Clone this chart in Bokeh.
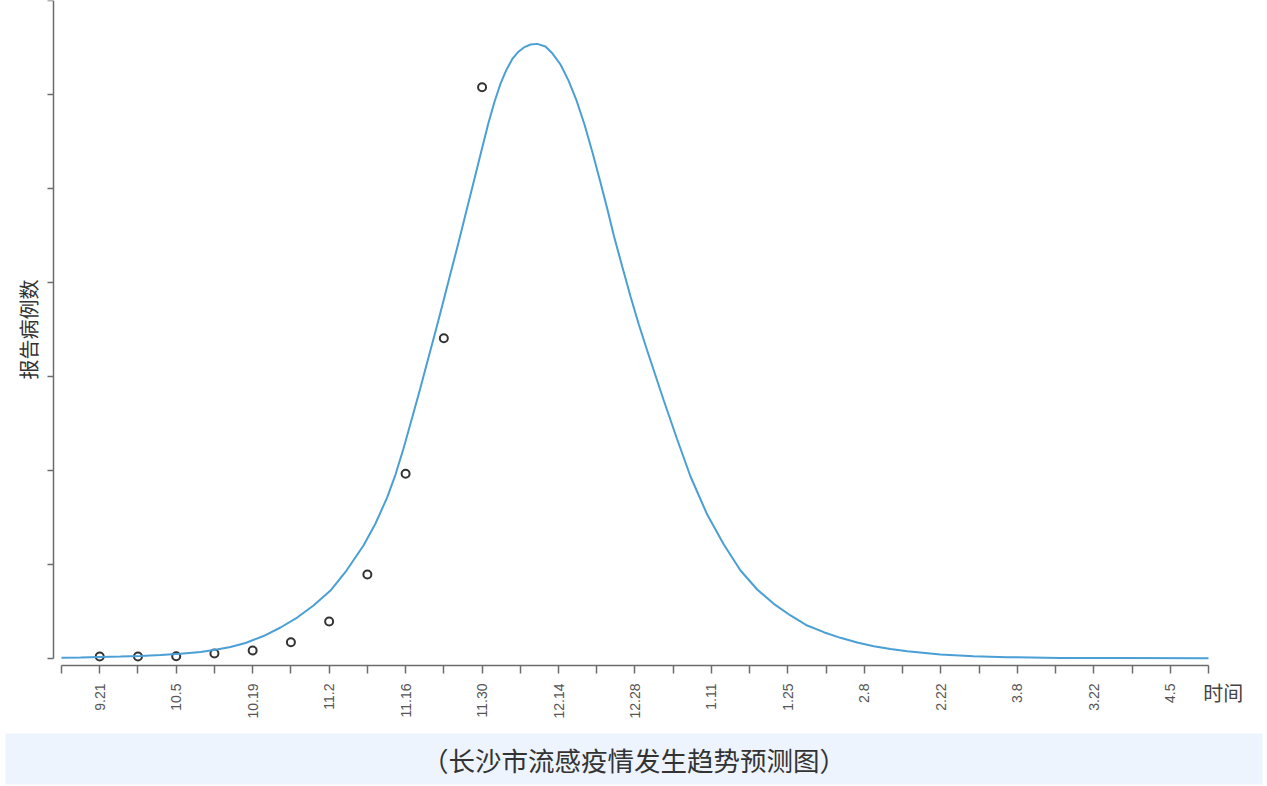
import numpy as np
from bokeh.plotting import figure
from bokeh.models import Range1d, FixedTicker, Label
from bokeh.layouts import column
from bokeh.embed import file_html
from bokeh.resources import INLINE

# ---- data (x = days since 9.14, weekly ticks) ----
tick_days = list(range(0, 211, 7))
tick_labels = ["", "9.21", "", "10.5", "", "10.19", "", "11.2", "", "11.16", "",
               "11.30", "", "12.14", "", "12.28", "", "1.11", "", "1.25", "",
               "2.8", "", "2.22", "", "3.8", "", "3.22", "", "4.5", ""]
y_ticks = [0, 1000, 2000, 3000, 4000, 5000, 6000, 7000]

# observed weekly reported cases
obs_days = [7, 14, 21, 28, 35, 42, 49, 56, 63, 70, 77]
obs_cases = [18, 18, 21, 50, 82, 170, 391, 891, 1964, 3408, 6081]

# predicted trend curve
fit_days = [0.00, 3.48, 7.14, 10.80, 14.46, 18.13, 21.79, 25.45, 28.20, 30.94,
            33.69, 36.98, 40.10, 43.15, 46.14, 49.25, 52.18, 55.29, 57.49,
            59.63, 61.15, 62.62, 64.26, 65.73, 67.19, 68.47, 69.76, 71.22,
            72.69, 74.15, 75.62, 77.08, 78.18, 79.28, 80.38, 81.47, 82.57,
            83.67, 84.77, 85.87, 87.09, 88.61, 89.90, 91.36, 92.83, 94.29,
            95.75, 97.22, 98.68, 99.91, 101.12, 102.66, 104.18, 105.70,
            107.23, 108.75, 110.27, 112.73, 115.16, 118.22, 121.26, 124.32,
            127.37, 130.41, 133.47, 136.53, 139.57, 142.62, 145.68, 148.72,
            151.78, 154.84, 160.93, 166.98, 173.14, 182.90, 193.89, 210.00]
fit_cases = [5, 7, 12, 17, 24, 34, 48, 66, 89, 119,
             162, 236, 327, 433, 561, 721, 934, 1200, 1435,
             1712, 1956, 2233, 2574, 2883, 3202, 3479, 3767, 4097,
             4427, 4768, 5109, 5450, 5703, 5927, 6119, 6268, 6385,
             6460, 6509, 6536, 6543, 6515, 6440, 6323, 6152, 5940,
             5684, 5386, 5066, 4789, 4502, 4172, 3852, 3554,
             3277, 3011, 2745, 2329, 1935, 1530, 1211, 934,
             732, 579, 455, 348, 277, 217, 167, 128,
             98, 75, 39, 21, 11, 3, 1, 0]

y_title = "报告病例数"
x_title = "时间"
caption = "（长沙市流感疫情发生趋势预测图）"

CJK = "Noto Sans CJK SC"

p = figure(width=1267, height=733,
           x_range=Range1d(-10.253, 219.887), y_range=Range1d(-802, 7005),
           output_backend="svg", toolbar_location=None,
           min_border_left=5, min_border_right=5,
           min_border_top=0, min_border_bottom=0)
p.xgrid.visible = False
p.ygrid.visible = False
p.outline_line_color = None
p.background_fill_color = "white"
p.border_fill_color = "white"

axis_col = "#6c6c6c"
xa = p.xaxis[0]
xa.fixed_location = -77.7
xa.ticker = FixedTicker(ticks=tick_days, minor_ticks=[])
xa.bounds = (tick_days[0], tick_days[-1])
xa.major_label_overrides = {d: t for d, t in zip(tick_days, tick_labels)}
xa.major_tick_out = 8
xa.major_tick_in = 0
xa.minor_tick_out = 0
xa.minor_tick_in = 0
xa.axis_line_color = axis_col
xa.axis_line_width = 1.5
xa.major_tick_line_color = axis_col
xa.major_tick_line_width = 1.5
xa.major_label_orientation = np.pi / 2
xa.major_label_text_font = "Liberation Sans"
xa.major_label_text_font_size = "14px"
xa.major_label_text_color = "#555555"
xa.major_label_standoff = 10

ya = p.yaxis[0]
ya.fixed_location = -1.465
ya.ticker = FixedTicker(ticks=y_ticks, minor_ticks=[])
ya.bounds = (y_ticks[0], y_ticks[-1])
ya.major_label_overrides = {v: "" for v in y_ticks}
ya.major_label_standoff = 0
ya.major_tick_out = 6
ya.major_tick_in = 0
ya.minor_tick_out = 0
ya.minor_tick_in = 0
ya.axis_line_color = axis_col
ya.axis_line_width = 1.5
ya.major_tick_line_color = axis_col
ya.major_tick_line_width = 1.5
ya.axis_label = y_title
ya.axis_label_text_font = CJK
ya.axis_label_text_font_size = "20px"
ya.axis_label_text_font_style = "normal"
ya.axis_label_text_color = "#333333"
ya.axis_label_standoff = 5

p.scatter(obs_days, obs_cases, marker="circle", size=8, fill_color=None,
          line_color="#333333", line_width=2)
p.line(fit_days, fit_cases, line_color="#4a9fd5", line_width=2)

p.add_layout(Label(x=212.7, y=-360, text=x_title, text_font=CJK,
                   text_font_size="20px", text_color="#444444",
                   text_align="center", text_baseline="middle"))

c = figure(width=1267, height=53, x_range=Range1d(0, 1), y_range=Range1d(0, 1),
           output_backend="svg", toolbar_location=None,
           min_border_left=5, min_border_right=5, min_border_top=0,
           min_border_bottom=2,
           x_axis_type=None, y_axis_type=None,
           background_fill_color="#edf4fe", border_fill_color="white")
c.outline_line_color = None
c.xgrid.visible = False
c.ygrid.visible = False
c.add_layout(Label(x=0.5, y=0.5, text=caption, text_font=CJK,
                   text_font_size="26.5px", text_color="#333333",
                   text_align="center", text_baseline="middle"))

layout = column(p, c, spacing=0)
open("out.html", "w").write(file_html(layout, INLINE))
